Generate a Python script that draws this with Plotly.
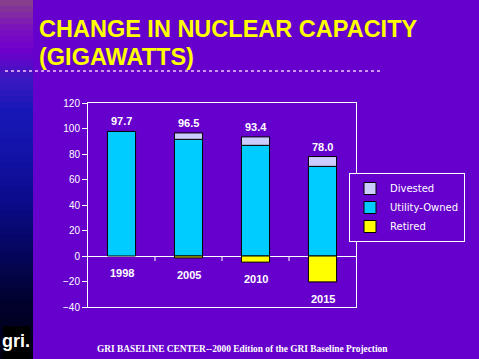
import plotly.graph_objects as go

# ---- data ----
years = ["1998", "2005", "2010", "2015"]
utility_owned = [97.7, 91.5, 86.8, 70.3]
divested = [None, 5.0, 6.6, 7.7]
retired = [None, -1.5, -4.8, -20.3]
totals = [97.7, 96.5, 93.4, 78.0]
total_labels = ["97.7", "96.5", "93.4", "78.0"]
y_ticks = [-40, -20, 0, 20, 40, 60, 80, 100, 120]
title_lines = ["CHANGE IN NUCLEAR CAPACITY", "(GIGAWATTS)"]

W, H = 479, 359
ML, MR, MT, MB = 88, 123, 103, 52
PW, PH = W - ML - MR, H - MT - MB


def px_x(x):
    return (x - ML) / PW


def px_y(y):
    return (H - MB - y) / PH


BG = "#6600CC"
fig = go.Figure()

fig.add_trace(go.Bar(x=years, y=utility_owned, name="Utility-Owned",
                     marker=dict(color="#00CCFF", line=dict(color="black", width=1)),
                     legendrank=2))
fig.add_trace(go.Bar(x=years, y=divested, name="Divested",
                     marker=dict(color="#CCCCFF", line=dict(color="black", width=1)),
                     legendrank=1))
fig.add_trace(go.Bar(x=years, y=retired, name="Retired",
                     marker=dict(color="#FFFF00", line=dict(color="black", width=1)),
                     legendrank=3))

annotations = []
# on a category axis, annotation x is the category's serial index
for i, (tot, lab) in enumerate(zip(totals, total_labels)):
    annotations.append(dict(x=i, y=tot, text=lab, showarrow=False, yanchor="bottom",
                            yshift=2, font=dict(family="Liberation Sans, Arial", size=11,
                                                color="white", weight="bold")))
for i, (yr, r) in enumerate(zip(years, retired)):
    annotations.append(dict(x=i, y=min(0, r or 0), text=yr, showarrow=False, yanchor="top",
                            yshift=-9, font=dict(family="Liberation Sans, Arial", size=11,
                                                 color="white", weight="bold")))

# title (two lines)
for line, yc in zip(title_lines, [29, 57]):
    annotations.append(dict(xref="paper", yref="paper", x=px_x(37), y=px_y(yc), xanchor="left",
                            yanchor="middle", align="left", showarrow=False, text=line,
                            font=dict(family="Liberation Sans, Arial", size=23.5,
                                      color="#FFFF00", weight="bold")))
# footer
annotations.append(dict(xref="paper", yref="paper", x=px_x(242), y=px_y(349), xanchor="center",
                        yanchor="middle", showarrow=False,
                        text="GRI BASELINE CENTER--2000 Edition of the GRI Baseline Projection",
                        font=dict(family="Liberation Serif, Times New Roman", size=9.4,
                                  color="white", weight="bold")))
# logo text
annotations.append(dict(xref="paper", yref="paper", x=px_x(16), y=px_y(341), xanchor="center",
                        yanchor="middle", showarrow=False, text="gri.",
                        font=dict(family="Liberation Sans Narrow, Liberation Sans, Arial",
                                  size=18, color="white", weight="bold")))

shapes = []
# left gradient strip
stops = [(0, (136, 68, 136)), (30, (122, 16, 192)), (50, (112, 0, 204)),
         (80, (58, 24, 192)), (110, (24, 24, 184)), (150, (20, 20, 170)),
         (200, (12, 12, 140)), (250, (6, 6, 96)), (300, (2, 2, 48)), (359, (0, 0, 16))]
step = 6
for y0 in range(0, H, step):
    ym = y0 + step / 2
    for (a, ca), (b, cb) in zip(stops[:-1], stops[1:]):
        if a <= ym <= b:
            t = (ym - a) / (b - a)
            c = tuple(int(ca[i] + (cb[i] - ca[i]) * t) for i in range(3))
            break
    shapes.append(dict(type="rect", xref="paper", yref="paper", x0=px_x(0), x1=px_x(33),
                       y0=px_y(y0), y1=px_y(min(H, y0 + step)), fillcolor="rgb(%d,%d,%d)" % c,
                       line=dict(width=0), layer="below"))
# logo box
shapes.append(dict(type="rect", xref="paper", yref="paper", x0=px_x(3), x1=px_x(30),
                   y0=px_y(326), y1=px_y(359), fillcolor="black", line=dict(width=0)))
# dotted rule
shapes.append(dict(type="line", xref="paper", yref="paper", x0=px_x(5), x1=px_x(381),
                   y0=px_y(71), y1=px_y(71), line=dict(color="#CC99EE", width=2, dash="dot")))
# category boundary ticks on zero line
for xb in [0.5, 1.5, 2.5]:
    shapes.append(dict(type="line", xref="x", yref="y", ysizemode="pixel", yanchor=0,
                       x0=xb, x1=xb, y0=0, y1=-5, line=dict(color="white", width=1)))

fig.update_layout(
    width=W, height=H,
    margin=dict(l=ML, r=MR, t=MT, b=MB, pad=0),
    paper_bgcolor=BG, plot_bgcolor=BG,
    barmode="relative", bargap=0.58,
    showlegend=True,
    legend=dict(x=px_x(465), y=px_y(173), xanchor="right", yanchor="top",
                bgcolor=BG, bordercolor="white", borderwidth=1,
                font=dict(family="DejaVu Sans", size=10, color="white"),
                traceorder="normal"),
    annotations=annotations,
    shapes=shapes,
    xaxis=dict(type="category", range=[-0.5, len(years) - 0.5], showline=True,
               linecolor="white", linewidth=1, mirror=True,
               showticklabels=False, ticks="", showgrid=False, zeroline=False),
    yaxis=dict(range=[-40, 120], tickvals=y_ticks, showline=True, linecolor="white",
               linewidth=1, mirror=True, ticks="outside", ticklen=5, tickcolor="white",
               showgrid=False, zeroline=True, zerolinecolor="white", zerolinewidth=1,
               layer="above traces",
               tickfont=dict(family="Liberation Sans, Arial", size=10, color="white")),
)

fig.write_html("out.html", config={"displayModeBar": False},
               post_script="document.body.style.margin='0';document.body.style.background='%s';" % BG)
